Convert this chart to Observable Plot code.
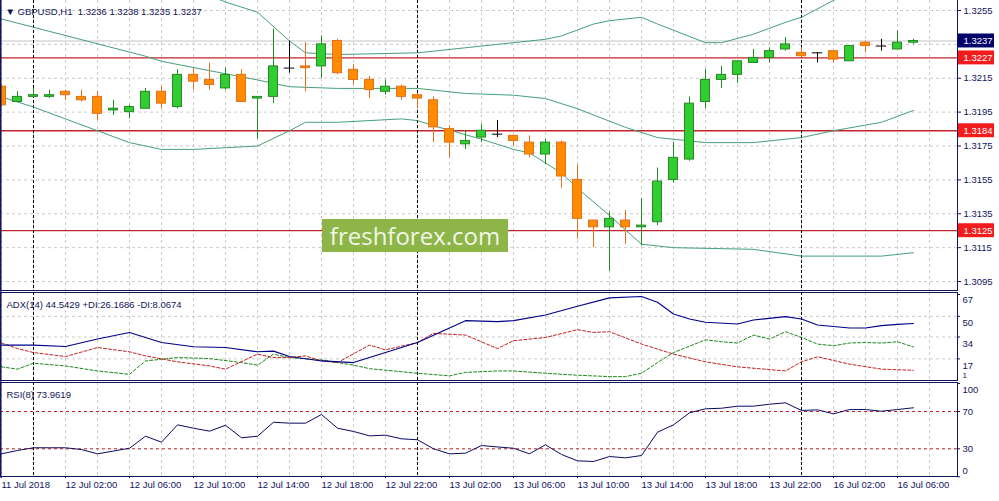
<!DOCTYPE html>
<html>
<head>
<meta charset="utf-8">
<script src="https://cdn.jsdelivr.net/npm/d3@7"></script>
<script src="https://cdn.jsdelivr.net/npm/@observablehq/plot@0.6"></script>
<style>
  body { margin: 0; background: #fff; }
  #chart { position: relative; width: 999px; height: 501px; overflow: hidden; font-family: "Liberation Sans", Arial, sans-serif; }
  #chart svg { position: absolute; left: 0; overflow: visible; }
  #mark {
    position: absolute; left: 322px; top: 219px; width: 186px; height: 33px;
    background: #8db547; color: #f2f6e8; font-family: "Open Sans", sans-serif;
    font-size: 24px; line-height: 33px; text-align: center;
  }
</style>
</head>
<body>
<div id="chart"></div>
<script>
// GBPUSD H1, 11 Jul 22:00 .. 16 Jul 07:00
const open = [1.3210,1.3201,1.3204,1.3204,1.3207,1.3204,1.3204,1.3196,1.3195,1.3197,
  1.3207,1.3198,1.3217,1.3214,1.3209,1.3217,1.3203,1.3204,1.3221,1.3222,
  1.3222,1.3237,1.3220,1.3214,1.3207,1.3210,1.3205,1.3202,1.3185,1.3176,
  1.3180,1.3182,1.3181,1.3177,1.3170,1.3177,1.3155,1.3131,1.3127,1.3131,
  1.3127,1.3130,1.3155,1.3167,1.3201,1.3214,1.3217,1.3224,1.3227,1.3232,
  1.3230,1.3230,1.3231,1.3225,1.3236,1.3234,1.3232,1.3236];
const high = [1.3211,1.3207,1.3209,1.3208,1.3208,1.3208,1.3207,1.3202,1.3199,1.3209,
  1.3210,1.3220,1.3221,1.3224,1.3221,1.3220,1.3204,1.3244,1.3237,1.3236,
  1.3240,1.3238,1.3223,1.3216,1.3214,1.3211,1.3206,1.3204,1.3187,1.3184,
  1.3188,1.3190,1.3181,1.3181,1.3179,1.3178,1.3164,1.3131,1.3136,1.3137,
  1.3144,1.3162,1.3177,1.3204,1.3220,1.3222,1.3225,1.3232,1.3233,1.3239,
  1.3233,1.3230,1.3231,1.3234,1.3237,1.3238,1.3243,1.3238];
const low = [1.3198,1.3201,1.3204,1.3203,1.3202,1.3201,1.3190,1.3193,1.3191,1.3197,
  1.3197,1.3197,1.3208,1.3208,1.3208,1.3201,1.3179,1.3200,1.3218,1.3207,
  1.3215,1.3217,1.3211,1.3203,1.3205,1.3202,1.3197,1.3177,1.3168,1.3173,
  1.3177,1.3180,1.3175,1.3168,1.3164,1.3150,1.3120,1.3115,1.3101,1.3117,
  1.3116,1.3128,1.3153,1.3166,1.3197,1.3209,1.3212,1.3224,1.3224,1.3231,
  1.3227,1.3224,1.3224,1.3225,1.3230,1.3231,1.3232,1.3235];
const close = [1.3199,1.3204,1.3205,1.3205,1.3205,1.3202,1.3194,1.3197,1.3198,1.3207,
  1.3200,1.3217,1.3213,1.3211,1.3217,1.3201,1.3204,1.3222,1.3221,1.3221,
  1.3235,1.3218,1.3214,1.3208,1.3210,1.3204,1.3203,1.3186,1.3177,1.3178,
  1.3184,1.3182,1.3178,1.3170,1.3177,1.3157,1.3132,1.3127,1.3132,1.3127,
  1.3128,1.3154,1.3168,1.3200,1.3214,1.3217,1.3225,1.3227,1.3231,1.3235,
  1.3228,1.3230,1.3226,1.3234,1.3234,1.3234,1.3236,1.3237];

// Bollinger bands at these bars
const bbUpBar = [0,9,14,16,18,19,21,26,27,29,32,34,35,37,38,40,41,44,45,47,49,50,52,57];
const bbUp = [1.3296,1.3279,1.3260,1.3254,1.3237,1.3230,1.3229,1.3230,1.3231,1.3233,1.3236,1.3238,
  1.3240,1.3247,1.3249,1.3251,1.3247,1.3236,1.3236,1.3241,1.3248,1.3251,1.3261,1.3280];
const bbMidBar = [0,9,10,16,18,21,26,29,32,34,36,39,41,44,47,50,52,55,57];
const bbMid = [1.3250,1.3228,1.3225,1.3214,1.3210,1.3209,1.3209,1.3206,1.3205,1.3203,1.3197,1.3186,
  1.3180,1.3177,1.3177,1.3180,1.3184,1.3189,1.3196];
const bbLoBar = [0,2,6,8,10,12,16,18,19,21,25,26,27,30,32,33,35,36,38,40,42,47,50,55,57];
const bbLo = [1.3204,1.3198,1.3184,1.3177,1.3173,1.3173,1.3175,1.3184,1.3189,1.3189,1.3191,1.3190,
  1.3187,1.3179,1.3173,1.3171,1.3159,1.3150,1.3134,1.3117,1.3115,1.3114,1.3110,1.3110,1.3112];

const levels = [1.3227, 1.3184, 1.3125];
const priceGrid = [1.3255,1.3235,1.3215,1.3195,1.3175,1.3155,1.3135,1.3115,1.3095];
const priceLabels = [1.3255,1.3215,1.3195,1.3175,1.3155,1.3135,1.3115,1.3095];

// ADX(14)
const adxBar = [0,2,4,6,8,10,12,14,16,17,18,20,22,24,26,29,31,32,34,36,38,40,41,42,43,44,46,47,49,50,51,53,54,55,56,57];
const adx = [27.7,27.7,26.6,32.4,37.5,29.7,26.4,25.8,22.5,23.0,18.8,15.4,14.1,21.9,29.7,46.7,45.9,46.7,
  51.1,57.9,64.4,65.4,61.0,51.9,48.0,45.4,44.1,47.2,49.8,48.0,43.3,41.0,41.0,42.8,43.8,44.5];
const pdiBar = [0,1,2,4,6,8,9,11,13,15,16,17,18,20,22,23,26,28,29,31,32,34,36,38,39,40,41,42,44,45,46,47,48,49,50,51,52,53,54,55,56,57];
const pdi = [10.8,9.0,13.6,11.5,7.6,5.0,15.4,18.0,17.2,14.1,12.1,20.7,18.0,16.2,12.1,9.4,5.8,3.8,6.5,7.6,
  7.6,5.8,4.3,3.2,3.2,5.8,14.1,21.9,31.8,30.3,29.3,35.5,32.4,38.1,33.6,28.5,27.2,29.3,29.7,29.3,30.3,26.2];
const mdiBar = [0,1,2,4,6,8,9,11,13,14,16,17,18,19,20,21,23,24,26,27,29,31,32,34,36,37,38,40,42,44,46,49,50,51,53,55,57];
const mdi = [29.3,25.0,21.9,18.8,25.8,22.5,19.3,14.7,11.5,9.0,20.7,18.0,18.0,19.3,15.4,14.1,27.7,24.0,
  29.7,36.8,35.5,25.0,31.1,33.6,39.7,37.5,38.1,28.5,20.7,14.7,10.8,7.6,14.7,18.6,12.9,9.0,8.1];

// RSI(8), one value per bar
const rsi = [24.6,28.2,31.1,31.1,31.1,29.2,24.6,27.6,30.6,43.5,37.1,55.7,52.1,48.9,55.3,41.8,43.5,58.5,57.5,57.5,
  66.8,52.1,48.6,43.9,44.6,40.7,39.7,30.0,24.6,25.3,33.5,32.0,30.6,24.6,34.3,23.9,17.1,16.4,21.7,20.3,
  22.8,47.8,55.7,68.6,72.9,73.5,75.7,75.7,77.8,79.3,71.1,71.8,67.5,72.1,72.1,70.3,72.1,74.0];

const tickBars = [0,4,8,12,16,20,24,28,32,36,40,44,48,52,56];
const tickLabels = ["11 Jul 2018","12 Jul 02:00","12 Jul 06:00","12 Jul 10:00","12 Jul 14:00",
  "12 Jul 18:00","12 Jul 22:00","13 Jul 02:00","13 Jul 06:00","13 Jul 10:00","13 Jul 14:00",
  "13 Jul 18:00","13 Jul 22:00","16 Jul 02:00","16 Jul 06:00"];
const daySeps = [2, 26, 50];

const candles = open.map((o, i) => ({i, open: o, high: high[i], low: low[i], close: close[i]}));
const bodies = candles.filter((d) => d.open !== d.close);
const dojis = candles.filter((d) => d.open === d.close);
const pts = (bars, vals) => bars.map((b, k) => ({i: b, v: vals[k]}));

const navy = "#10145a";
const xMax = 59.75;
const xOpts = {type: "linear", domain: [-1 / 16, xMax], axis: null};
const gridBars = d3.range(0, 60, 2);
const common = {
  width: 999, marginLeft: 0, marginRight: 42, marginTop: 0,
  style: {fontFamily: "Liberation Sans, Arial, sans-serif", fontSize: "9.5px", color: navy, background: "none"},
};

function strokeOf(d) {
  if (d.close > d.open) return "#238a23";
  if (d.close < d.open) return "#e2701c";
  return "#000";
}

const chart = document.getElementById("chart");
function place(svg, top) {
  svg.style.top = top + "px";
  chart.appendChild(svg);
}

// main price panel
const last = candles[candles.length - 1];
const half = 7 / 17000;
const main = Plot.plot({
  ...common,
  height: 290,
  marginBottom: 0,
  x: xOpts,
  y: {domain: [1.30897, 1.32609], axis: null},
  marks: [
    Plot.ruleY(priceGrid, {stroke: "#cbcbcb", strokeDasharray: "3,3"}),
    Plot.ruleX(gridBars, {stroke: "#cbcbcb", strokeDasharray: "3,3"}),
    Plot.ruleY([last.close], {stroke: "#c4c4c4"}),
    Plot.ruleY(levels, {stroke: "#c0242a", strokeWidth: 1.3}),
    Plot.ruleX(daySeps, {stroke: "#000", strokeDasharray: "3,2"}),
    Plot.line(pts(bbUpBar, bbUp), {x: "i", y: "v", stroke: "#45a07a", strokeWidth: 1, clip: true}),
    Plot.line(pts(bbMidBar, bbMid), {x: "i", y: "v", stroke: "#45a07a", strokeWidth: 1, clip: true}),
    Plot.line(pts(bbLoBar, bbLo), {x: "i", y: "v", stroke: "#45a07a", strokeWidth: 1, clip: true}),
    Plot.ruleX(candles, {x: "i", y1: "low", y2: "high", stroke: strokeOf, clip: true}),
    Plot.rect(bodies, {
      x1: (d) => d.i - 0.28, x2: (d) => d.i + 0.28, y1: "open", y2: "close",
      fill: (d) => (d.close > d.open ? "#32cd32" : "#ff8c00"), stroke: strokeOf, clip: true,
    }),
    Plot.ruleY(dojis, {y: "close", x1: (d) => d.i - 0.33, x2: (d) => d.i + 0.33, stroke: "#000", clip: true}),
    Plot.frame({anchor: "left", stroke: navy, strokeWidth: 2}),
    Plot.frame({anchor: "right", stroke: navy}),
    Plot.frame({anchor: "bottom", stroke: navy}),
    Plot.axisY(priceLabels, {anchor: "right", tickSize: 3, tickPadding: 3, tickFormat: d3.format(".4f"), fill: navy}),
    // price badges
    Plot.rect(levels, {x1: xMax + 1 / 16, x2: xMax + 37 / 16, y1: (d) => d - half, y2: (d) => d + half, fill: "#f21c1c"}),
    Plot.text(levels, {x: xMax, y: (d) => d, dx: 6, text: (d) => d.toFixed(4), textAnchor: "start", fill: "#fff"}),
    Plot.rect([last.close], {x1: xMax + 1 / 16, x2: xMax + 37 / 16, y1: (d) => d - half, y2: (d) => d + half, fill: "#000068"}),
    Plot.text([last.close], {x: xMax, y: (d) => d, dx: 6, text: (d) => d.toFixed(4), textAnchor: "start", fill: "#fff"}),
    Plot.text([`▼ GBPUSD,H1  ${last.open.toFixed(4)} ${last.high.toFixed(4)} ${last.low.toFixed(4)} ${last.close.toFixed(4)}`], {
      frameAnchor: "top-left", dx: 5, dy: 8, textAnchor: "start", fill: navy,
    }),
  ],
});
place(main, 0);

// ADX panel
const adxPanel = Plot.plot({
  ...common,
  height: 88,
  marginBottom: 0,
  x: xOpts,
  y: {domain: [0.19, 68.56], axis: null},
  marks: [
    Plot.ruleY([50, 34, 17], {stroke: "#cbcbcb", strokeDasharray: "3,3"}),
    Plot.ruleX(gridBars, {stroke: "#cbcbcb", strokeDasharray: "3,3"}),
    Plot.ruleX(daySeps, {stroke: "#000", strokeDasharray: "3,2"}),
    Plot.line(pts(pdiBar, pdi), {x: "i", y: "v", stroke: "#1b8a1b", strokeWidth: 1, strokeDasharray: "3,2", clip: true}),
    Plot.line(pts(mdiBar, mdi), {x: "i", y: "v", stroke: "#c42020", strokeWidth: 1, strokeDasharray: "3,2", clip: true}),
    Plot.line(pts(adxBar, adx), {x: "i", y: "v", stroke: "#00008a", strokeWidth: 1.1, clip: true}),
    Plot.frame({stroke: navy}),
    Plot.frame({anchor: "left", stroke: navy, strokeWidth: 2}),
    Plot.ruleY([67, 50, 34, 17], {x1: xMax, x2: xMax + 3 / 16, stroke: navy}),
    Plot.text([67], {y: (d) => d, frameAnchor: "right", dx: 5, dy: 5, text: (d) => d, textAnchor: "start", fill: navy}),
    Plot.text([50, 34, 17], {y: (d) => d, frameAnchor: "right", dx: 5, dy: 7, text: (d) => d, textAnchor: "start", fill: navy}),
    Plot.text([1], {y: (d) => d, frameAnchor: "right", dx: 5, dy: -4, text: (d) => d, textAnchor: "start", fill: navy, fontSize: 8}),
    Plot.text([`ADX(14) 44.5429 +DI:26.1686 -DI:8.0674`], {frameAnchor: "top-left", dx: 6, dy: 9, textAnchor: "start", fill: navy}),
  ],
});
place(adxPanel, 292);

// RSI panel
const rsiPanel = Plot.plot({
  ...common,
  height: 119,
  marginBottom: 25,
  x: xOpts,
  y: {domain: [0.3, 101.1], axis: null},
  marks: [
    Plot.ruleX(gridBars, {stroke: "#cbcbcb", strokeDasharray: "3,3"}),
    Plot.ruleY([70, 30], {stroke: "#c42020", strokeDasharray: "3,3"}),
    Plot.ruleX(daySeps, {stroke: "#000", strokeDasharray: "3,2"}),
    Plot.line(rsi, {x: (d, i) => i, y: (d) => d, stroke: "#0a0a60", strokeWidth: 1, clip: true}),
    Plot.frame({stroke: navy}),
    Plot.frame({anchor: "left", stroke: navy, strokeWidth: 2}),
    Plot.ruleY([100, 70, 30, 0], {x1: xMax, x2: xMax + 3 / 16, stroke: navy}),
    Plot.text([100], {y: (d) => d, frameAnchor: "right", dx: 5, dy: 6, text: (d) => d, textAnchor: "start", fill: navy}),
    Plot.text([70, 30], {y: (d) => d, frameAnchor: "right", dx: 5, text: (d) => d, textAnchor: "start", fill: navy}),
    Plot.text([0], {y: (d) => d, frameAnchor: "right", dx: 5, dy: -6, text: (d) => d, textAnchor: "start", fill: navy}),
    Plot.axisX(tickBars, {
      anchor: "bottom", tickSize: 2, tickPadding: 3, textAnchor: "start", fill: navy,
      tickFormat: (d) => tickLabels[tickBars.indexOf(d)],
    }),
    Plot.text(["RSI(8) 73.9619"], {frameAnchor: "top-left", dx: 6, dy: 9, textAnchor: "start", fill: navy}),
  ],
});
place(rsiPanel, 382);

const mark = document.createElement("div");
mark.id = "mark";
mark.textContent = "freshforex.com";
chart.appendChild(mark);
</script>
</body>
</html>
